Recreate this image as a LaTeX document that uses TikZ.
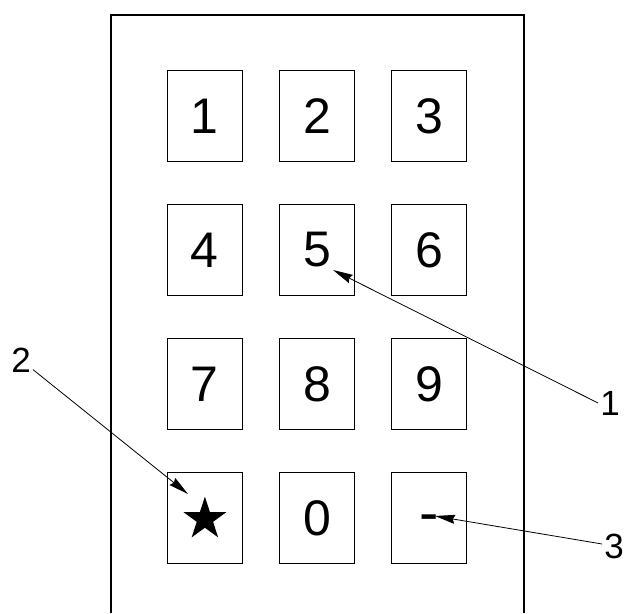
\documentclass[tikz,border=0pt]{standalone}
\usepackage{fontspec}
\setmainfont{Liberation Sans}
\usetikzlibrary{arrows.meta}
\usetikzlibrary{shapes.geometric}
\newcommand{\KeyNode}[2]{\node(#1){#2};}

\begin{document}
\begin{tikzpicture}[
    x=1pt, y=-1pt,
    >={Stealth[length=20pt, width=9pt, inset=2pt]},
    keybox/.style={draw, line width=1.1pt, minimum width=75pt,
      minimum height=91pt, inner sep=0pt,
      font=\fontsize{50}{60}\selectfont},
    callout/.style={inner sep=2pt, font=\fontsize{35}{42}\selectfont},
    leader/.style={line width=0.8pt}
    ]

    \useasboundingbox (0,0) rectangle (628,613);

    % housing, open at the bottom
    \draw[line width=1.3pt] (111,613) -- (111,15) -- (524,15) -- (524,613);

    \matrix[
    column sep=36pt,
    row sep=42pt,
    nodes={keybox},
    ] at (317,317) {
      \KeyNode{k1}{1} & \KeyNode{k2}{2} & \KeyNode{k3}{3}\\
      \KeyNode{k4}{4} & \KeyNode{k5}{5} & \KeyNode{k6}{6}\\
      \KeyNode{k7}{7} & \KeyNode{k8}{8} & \KeyNode{k9}{9}\\
      \KeyNode{ks}{}  & \KeyNode{k0}{0} &
      \KeyNode{km}{\fontsize{58}{60}\selectfont\smash{\raisebox{-14pt}{-}}}\\
    };

    \node[star, star points=5, star point ratio=2.618, fill,
      minimum size=45pt, inner sep=0pt] (star) at ([yshift=-1pt]ks.center) {};

    \node[callout] (l1) at (610,403) {1};
    \node[callout] (l2) at (21,360) {2};
    \node[callout] (l3) at (614,546) {3};

    \coordinate (t1) at (333,270);
    \coordinate (t2) at (188,494);
    \coordinate (t3) at (435,516);

    \path[
    ->,
    leader,
    ]
    (l1.west) edge (t1)
    (l2)      edge (t2)
    (l3)      edge (t3);

\end{tikzpicture}
\end{document}
